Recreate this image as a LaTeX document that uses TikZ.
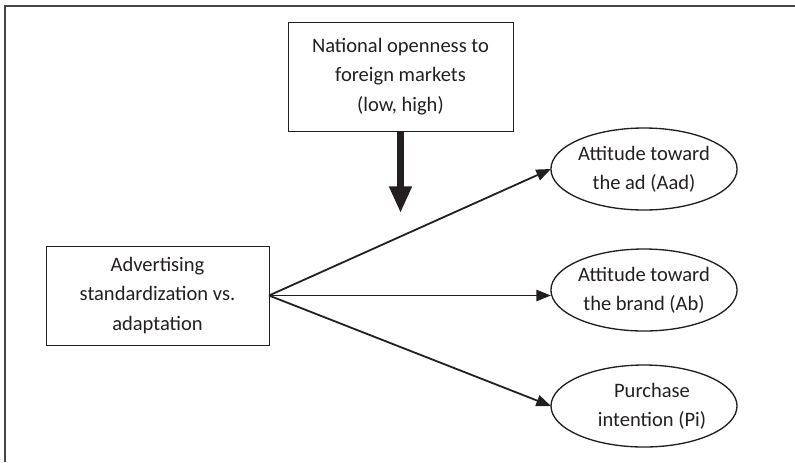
\documentclass[tikz,border=0pt]{standalone}
\usepackage{fontspec}
\setmainfont{Carlito}
\usetikzlibrary{arrows.meta,shapes.geometric}
\definecolor{ink}{HTML}{231F20}
\definecolor{framegray}{HTML}{474747}
\tikzset{
  box/.style={draw=ink, line width=0.7pt, align=center, inner sep=0pt, outer sep=0pt},
  oval/.style={draw=ink, ellipse, line width=1pt, align=center, inner sep=0pt, outer sep=0pt,
    minimum width=139.5pt, minimum height=61.5pt},
  arr/.style={-{Triangle[length=11pt,width=8.5pt]}, draw=ink, line width=1.35pt},
  bigarr/.style={-{Triangle[length=20pt,width=16pt]}, draw=ink, line width=4.9pt}
}
\begin{document}
\begin{tikzpicture}[x=0.75pt, y=-0.75pt, font=\fontsize{15.4}{22}\selectfont, text=ink]
\useasboundingbox (0,0) rectangle (795,462);

% Frame
\draw[framegray, line width=1.4pt] (5,462) -- (5,6) -- (795,6);

% Boxes
\node[box, minimum width=168.75pt, minimum height=81.75pt] (open) at (400.5,76.5)
  {National openness to\\foreign markets\\(low, high)};
\node[box, minimum width=167.25pt, minimum height=74.25pt] (adv) at (157.5,295.5)
  {Advertising\\standardization vs.\\adaptation};

% Outcomes
\node[oval] (aad) at (644,169) {Attitude toward\\the ad (Aad)};
\node[oval] (ab) at (644,290) {Attitude toward\\the brand (Ab)};
\node[oval] (pi) at (644,406) {\hspace*{12pt}Purchase\\\hspace*{12pt}intention (Pi)};

% Moderator
\coordinate (mod) at (400.5,213);
\draw[bigarr] (open.south) -- (mod);

% Effects
\draw[arr] (adv.east) -- (aad.west);
\draw[arr] (adv.east) -- (adv.east -| ab.west);
\draw[arr] (adv.east) -- (pi.west);

\end{tikzpicture}
\end{document}
